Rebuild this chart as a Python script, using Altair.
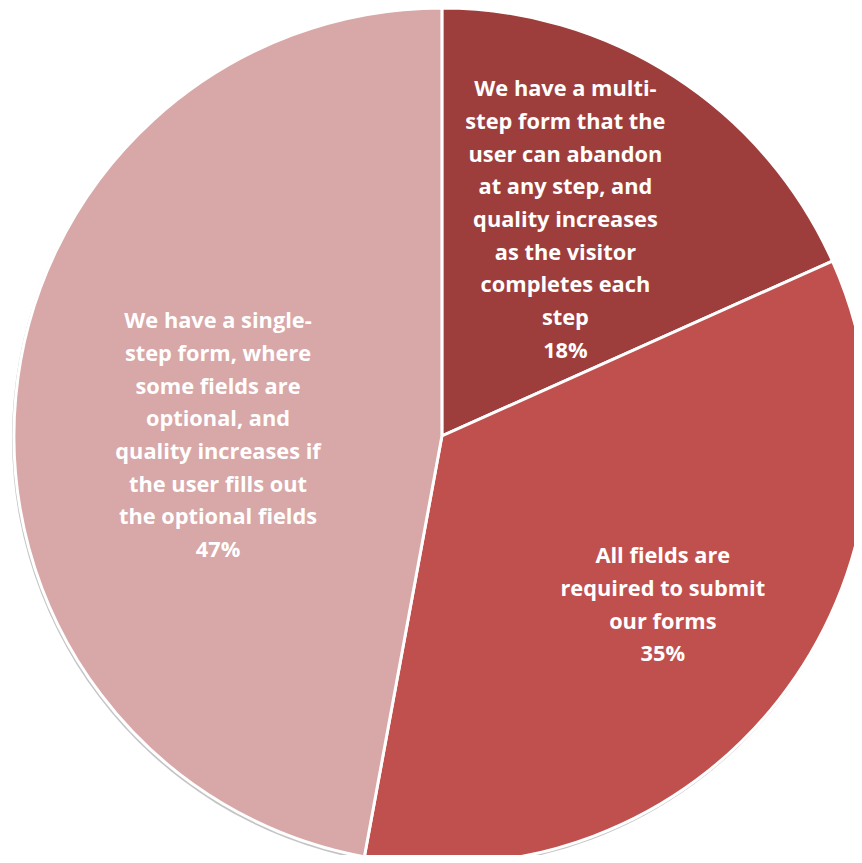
import altair as alt
import pandas as pd
import math

categories = [
    "We have a multi-step form that the user can abandon at any step, and quality increases as the visitor completes each step",
    "All fields are required to submit our forms",
    "We have a single-step form, where some fields are optional, and quality increases if the user fills out the optional fields",
]
label_lines = [
    "We have a multi-\nstep form that the\nuser can abandon\nat any step, and\nquality increases\nas the visitor\ncompletes each\nstep\n18%",
    "All fields are\nrequired to submit\nour forms\n35%",
    "We have a single-\nstep form, where\nsome fields are\noptional, and\nquality increases if\nthe user fills out\nthe optional fields\n47%",
]
values = [18.3, 34.6, 47.1]
colors = ["#9D3E3C", "#C0504D", "#D8A7A7"]

df = pd.DataFrame({
    "category": categories,
    "label": label_lines,
    "value": values,
    "order": [0, 1, 2],
})

CX, CY, R = 438, 428, 432
LH = 33
TWO_PI = 2 * math.pi

shadow = alt.Chart(df).mark_arc(color="#c4c4c4").encode(
    theta=alt.Theta("value:Q", stack=True),
    order=alt.Order("order:Q"),
    x=alt.value(CX - 1), y=alt.value(CY + 2), radius=alt.value(R + 1),
)

pie = alt.Chart(df).mark_arc(stroke="white", strokeWidth=3).encode(
    theta=alt.Theta("value:Q", stack=True),
    order=alt.Order("order:Q"),
    color=alt.Color("category:N", scale=alt.Scale(domain=categories, range=colors), legend=None),
    x=alt.value(CX), y=alt.value(CY), radius=alt.value(R),
)

text = alt.Chart(df).transform_window(
    cum="sum(value)", sort=[alt.SortField("order")], frame=[None, 0]
).transform_joinaggregate(
    total="sum(value)"
).transform_calculate(
    mid=f"(datum.cum - datum.value / 2) / datum.total * {TWO_PI}",
    adj="datum.order == 0 ? -0.055 : (datum.order == 1 ? -0.012 : -0.09)",
    r="datum.order == 0 ? 251 : (datum.order == 1 ? 281 : 226)",
    nlines="length(split(datum.label, '\\n'))",
).transform_calculate(
    px=f"{CX} + datum.r * sin(datum.mid + datum.adj)",
    py=f"{CY} - datum.r * cos(datum.mid + datum.adj) - (datum.nlines - 1) / 2 * {LH}",
).mark_text(
    font="Open Sans", fontSize=22, fontWeight="bold", color="white",
    lineBreak="\n", lineHeight=LH, align="center", baseline="middle",
).encode(
    text="label:N",
    x=alt.X("px:Q", scale=None),
    y=alt.Y("py:Q", scale=None),
)

chart = alt.layer(shadow, pie, text).resolve_scale(theta="independent").properties(
    width=854, height=847, padding=0,
    autosize=alt.AutoSizeParams(type="none"),
).configure_view(stroke=None)

chart.save("out.html", embed_options={"renderer": "svg", "actions": False})
